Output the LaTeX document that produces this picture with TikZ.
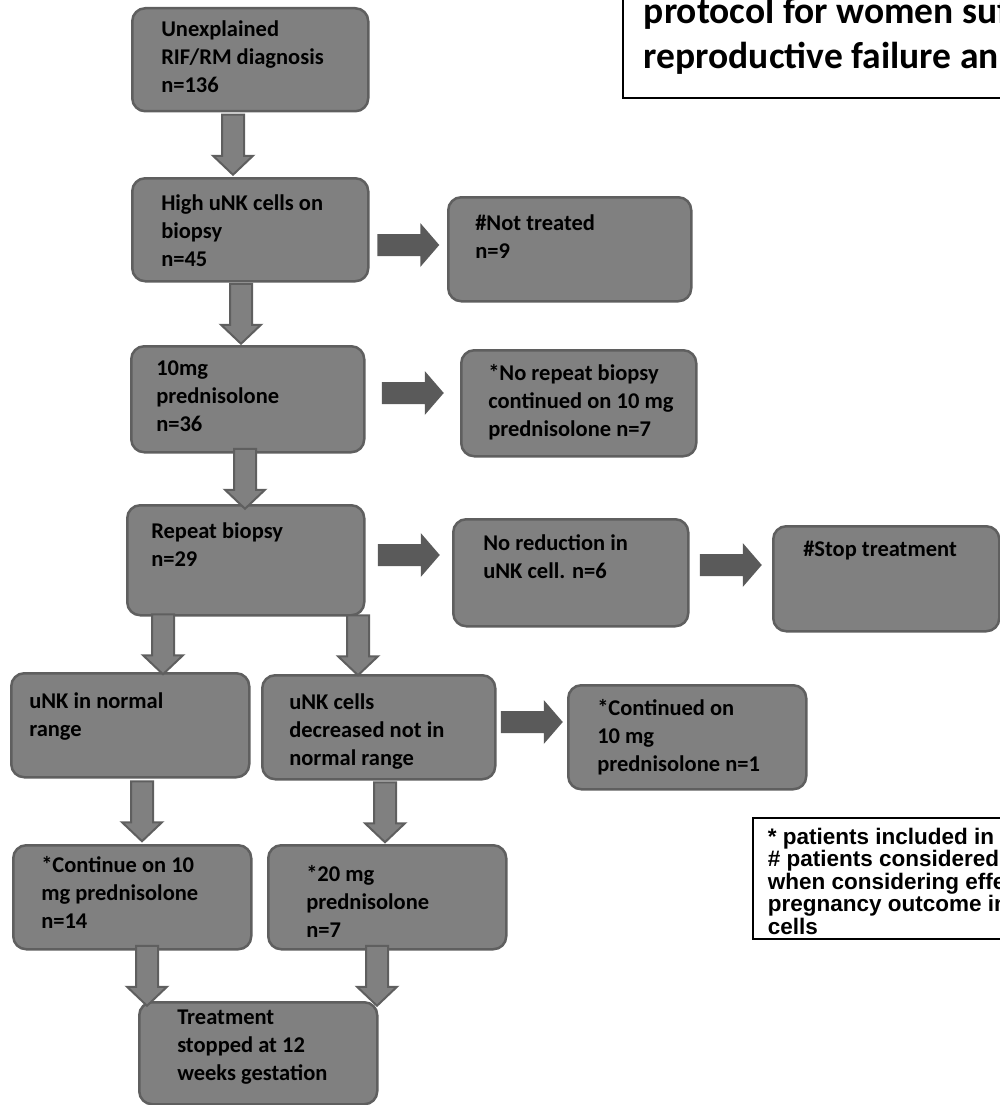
\documentclass[tikz,border=0pt]{standalone}
\usepackage{fontspec}
\usepackage{tikz}
\usetikzlibrary{calc}
\newfontfamily\calib{Carlito}
\newfontfamily\arialb{Liberation Sans}
\definecolor{boxgray}{RGB}{128,128,128}
\definecolor{edgegray}{RGB}{95,95,95}
\definecolor{arrowgray}{RGB}{90,90,90}

\tikzset{
  stage/.style={draw=edgegray, fill=boxgray, line width=2.5pt, rounded corners=13pt,
    anchor=north west, inner sep=0pt, font=\calib\bfseries\fontsize{22.5}{28}\selectfont},
  framebox/.style={draw=black, line width=1.8pt, anchor=north west, inner sep=0pt},
  varrow/.style={fill=boxgray, draw=edgegray, line width=2pt},
  harrow/.style={fill=arrowgray}
}

% width, height, left pad, top pad, lines
\newcommand{\stagetext}[5]{\parbox[c][#2pt][t]{#1pt}{\raggedright\leftskip=#3pt\vspace*{#4pt}#5}}
% from, to, x
\newcommand{\vblock}[3]{%
  \filldraw[varrow] let \p1=($(#1.south)!.5!(#2.north)$) in
    (#3pt,\y1) ++(-11,-30) -- ++(22,0) -- ++(0,41) -- ++(9,0) -- ++(-20,19)
    -- ++(-20,-19) -- ++(9,0) -- cycle;}
% from, to, y
\newcommand{\hblock}[3]{%
  \fill[harrow] let \p1=($(#1.east)!.5!(#2.west)$) in
    (\x1,-#3pt) ++(-31,-11) -- ++(43,0) -- ++(0,-11) -- ++(19,22) -- ++(-19,22)
    -- ++(0,-11) -- ++(-43,0) -- cycle;}

\begin{document}
\begin{tikzpicture}[x=1pt,y=-1pt]
\useasboundingbox (0,0) rectangle (1000,1105);
\clip (0,0) rectangle (1000,1105);

\node[framebox, font=\calib\bfseries\fontsize{37.5}{45}\selectfont] (title) at (622,-43)
  {\stagetext{420}{140}{21}{39}{protocol for women suf\\reproductive failure an}};

\node[stage] (diag) at (131,7) {\stagetext{236}{103}{29}{12}{Unexplained\\RIF/RM diagnosis\\n=136}};
\node[stage] (high) at (131,177) {\stagetext{236}{103}{29}{16}{High uNK cells on\\biopsy\\n=45}};
\node[stage] (nottreat) at (447,196) {\stagetext{243}{104}{27}{17}{\#Not treated\\n=9}};
\node[stage] (pred) at (130,345) {\stagetext{233}{106}{25}{14}{10mg\\prednisolone\\n=36}};
\node[stage] (norepeat) at (460,349) {\stagetext{235}{106}{27}{14}{*No repeat biopsy\\continued on 10 mg\\prednisolone n=7}};
\node[stage] (repeat) at (126,504) {\stagetext{237}{110}{24}{17}{Repeat biopsy\\n=29}};
\node[stage] (noreduc) at (452,518) {\stagetext{235}{107}{30}{15}{No reduction in\\uNK cell. n=6}};
\node[stage] (stop) at (772,525) {\stagetext{226}{105}{30}{15}{\#Stop treatment}};
\node[stage] (normal) at (10,672) {\stagetext{238}{104}{18}{19}{uNK in normal\\range}};
\node[stage] (decr) at (261,674) {\stagetext{233}{104}{27}{18}{uNK cells\\decreased not in\\normal range}};
\node[stage] (contone) at (567,684) {\stagetext{238}{104}{29}{14}{*Continued on\\10 mg\\prednisolone n=1}};
\node[stage] (contten) at (12,844) {\stagetext{238}{104}{28}{11}{*Continue on 10\\mg prednisolone\\n=14}};
\node[stage] (twenty) at (267,844) {\stagetext{238}{104}{38}{20}{*20 mg\\prednisolone\\n=7}};
\node[stage] (stopped) at (138,1001) {\stagetext{238}{102}{38}{8}{Treatment\\stopped at 12\\weeks gestation}};

\node[framebox, font=\arialb\bfseries\fontsize{22.5}{22.5}\selectfont] (notes) at (752,817)
  {\stagetext{300}{121}{15}{10}{* patients included in\\\# patients considered\\when considering effe\\pregnancy outcome in\\cells}};

\vblock{diag}{high}{233}
\vblock{high}{pred}{241}
\vblock{pred}{repeat}{245}
\vblock{repeat}{normal}{163}
\vblock{repeat}{decr}{358}
\vblock{normal}{contten}{142}
\vblock{decr}{twenty}{385}
\vblock{contten}{stopped}{147}
\vblock{twenty}{stopped}{377}

\hblock{high}{nottreat}{245}
\hblock{pred}{norepeat}{393}
\hblock{repeat}{noreduc}{555}
\hblock{noreduc}{stop}{565}
\hblock{decr}{contone}{722}
\end{tikzpicture}
\end{document}
